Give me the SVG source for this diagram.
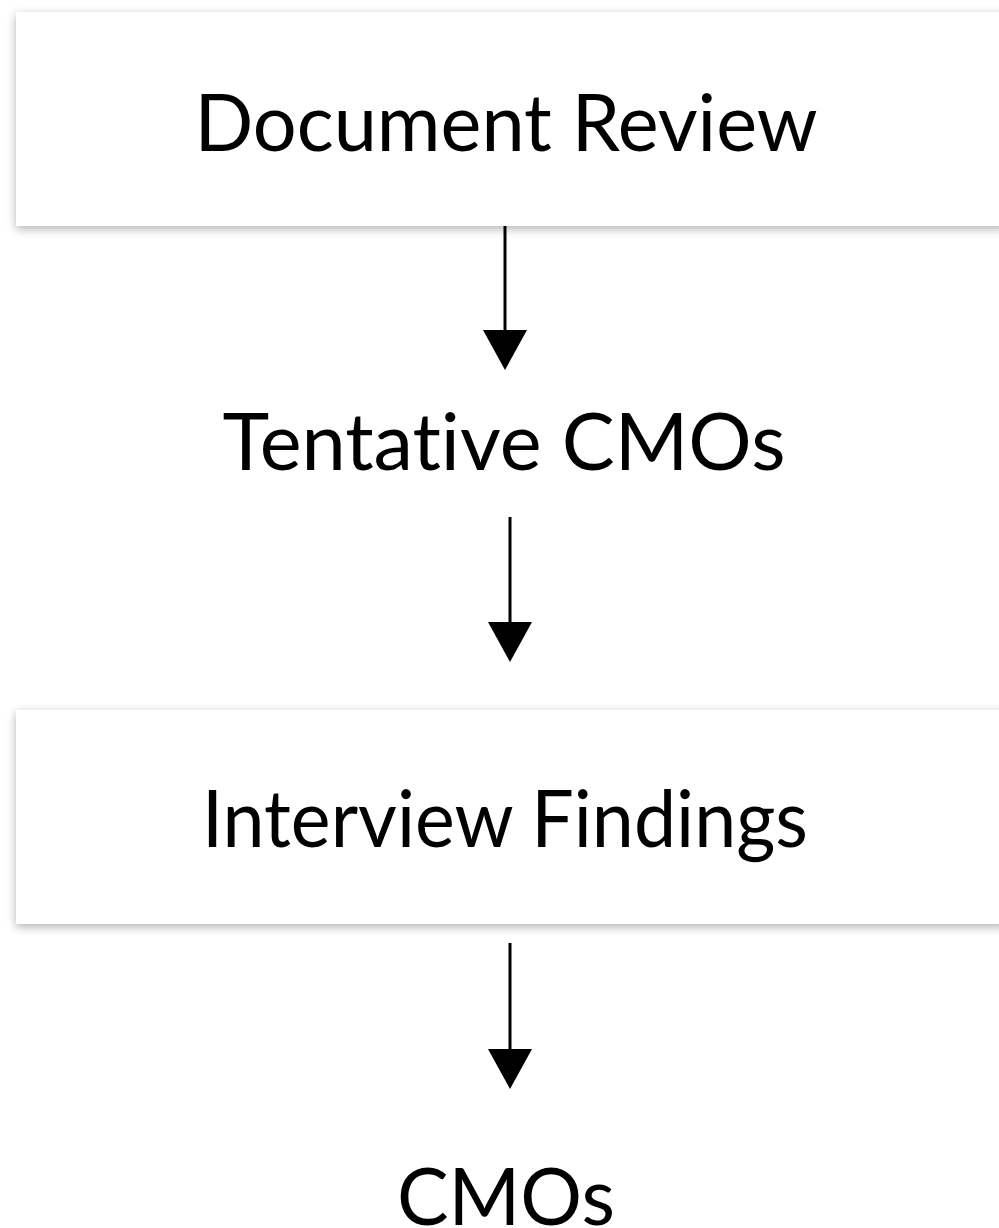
<svg xmlns="http://www.w3.org/2000/svg" width="999" height="1228" viewBox="0 0 999 1228">
  <defs>
    <filter id="soft-shadow" x="-5%" y="-20%" width="110%" height="140%">
      <feDropShadow dx="0" dy="3" stdDeviation="5" flood-color="#000" flood-opacity="0.3"/>
    </filter>
    <!-- solid triangular head, drawn along +x; its base sits on the line end -->
    <marker id="arrowhead" viewBox="0 0 40 44" refX="0" refY="22" markerWidth="40" markerHeight="44" markerUnits="userSpaceOnUse" orient="auto">
      <path d="M0,0 L40,22 L0,44 Z" fill="#000"/>
    </marker>
  </defs>
  <style>
    .box { fill: #fff; filter: url(#soft-shadow); }
    .label { font-family: Lato, "Open Sans", sans-serif; font-size: 80px; fill: #000; text-anchor: middle; font-variant-ligatures: none; }
    .edge { stroke: #000; stroke-width: 3; fill: none; }
  </style>
  <rect width="999" height="1228" fill="#fff"/>

  <g id="node-document-review">
    <rect class="box" x="16" y="12" width="990" height="214"/>
    <text class="label" x="506" y="151" textLength="623" lengthAdjust="spacingAndGlyphs">Document Review</text>
  </g>

  <g id="node-tentative-cmos">
    <text class="label" x="504" y="470" textLength="563" lengthAdjust="spacingAndGlyphs">Tentative CMOs</text>
  </g>

  <g id="node-interview-findings">
    <rect class="box" x="16" y="710" width="990" height="214"/>
    <text class="label" x="505" y="847" textLength="606" lengthAdjust="spacingAndGlyphs">Interview Findings</text>
  </g>

  <g id="node-cmos">
    <text class="label" x="506" y="1225" textLength="218" lengthAdjust="spacingAndGlyphs">CMOs</text>
  </g>

  <g id="connectors">
    <line class="edge" x1="505" y1="226" x2="505" y2="330" marker-end="url(#arrowhead)"/>
    <line class="edge" x1="510" y1="517" x2="510" y2="622" marker-end="url(#arrowhead)"/>
    <line class="edge" x1="510" y1="943" x2="510" y2="1049" marker-end="url(#arrowhead)"/>
  </g>
</svg>
